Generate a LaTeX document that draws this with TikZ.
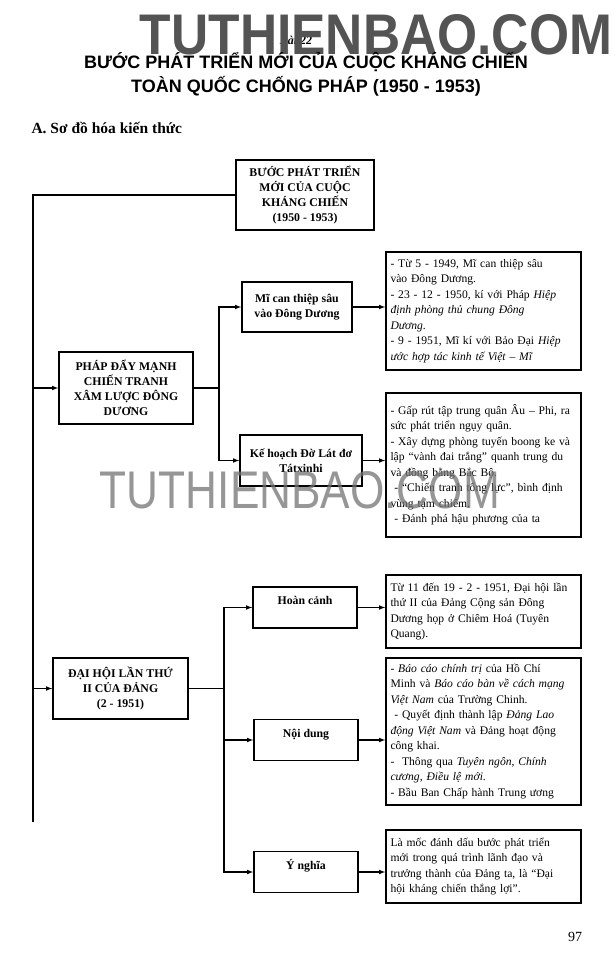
\documentclass[tikz,border=0pt]{standalone}
\usepackage{fontspec}
\setmainfont{Liberation Serif}
\newfontfamily\titlefont{Liberation Sans}
\usepackage{tikz}

\begin{document}
\begin{tikzpicture}[
    x=1pt, y=-1pt,
    block/.style={rectangle, draw, line width=1.7pt, align=center, inner sep=3pt, font=\fontsize{11.8}{15}\selectfont\bfseries},
    topic/.style={rectangle, draw, line width=1.7pt, minimum width=104pt, inner ysep=0pt, text height=17.5pt, text depth=23.5pt, font=\fontsize{11.8}{15}\selectfont\bfseries},
    detail/.style={rectangle, draw, line width=1.7pt, align=left, text width=186pt, inner xsep=4.5pt, font=\fontsize{11.6}{15.5}\selectfont},
    arrow/.style={-latex, line width=1.1pt},
    link/.style={line width=1.1pt}
]
\fill[white] (0,0) rectangle (615,980);
\useasboundingbox (0,0) rectangle (615,980);

% Heading
\node[font=\fontsize{12}{14}\selectfont\bfseries\itshape] (lesson) at (296,40) {Bài 22};
\node[text=black!67] (mark1) at (376,35) {\resizebox{472pt}{40pt}{\titlefont\bfseries TUTHIENBAO.COM}};
\node[font=\fontsize{18}{20}\selectfont\titlefont\bfseries] (title1) at (306,62) {BƯỚC PHÁT TRIỂN MỚI CỦA CUỘC KHÁNG CHIẾN};
\node[font=\fontsize{18}{20}\selectfont\titlefont\bfseries] (title2) at (306,86) {TOÀN QUỐC CHỐNG PHÁP (1950 - 1953)};
\node[anchor=west, font=\fontsize{15.5}{18}\selectfont\bfseries] (part) at (28,128) {A. Sơ đồ hóa kiến thức};

% Left column
\node[block, minimum width=138pt, minimum height=70pt] (top) at (305,195) {BƯỚC PHÁT TRIỂN\\MỚI CỦA CUỘC\\KHÁNG CHIẾN\\(1950 - 1953)};
\node[block, minimum width=134pt, minimum height=72pt] (phap) at (126,388) {PHÁP ĐẨY MẠNH\\CHIẾN TRANH\\XÂM LƯỢC ĐÔNG\\DƯƠNG};
\node[block, minimum width=135pt, minimum height=61pt] (daihoi) at (120.5,688.5) {ĐẠI HỘI LẦN THỨ\\II CỦA ĐẢNG\\(2 - 1951)};

% Middle column
\node[block, minimum width=110pt, minimum height=50pt] (mi) at (297,307) {Mĩ can thiệp sâu\\vào Đông Dương};
\node[block, minimum width=122pt, minimum height=51pt] (kehoach) at (301,460.5) {Kế hoạch Đờ Lát đơ\\Tátxinhi};
\node[topic] (hoancanh) at (305,607.5) {Hoàn cảnh};
\node[topic] (noidung) at (306,740) {Nội dung};
\node[topic] (ynghia) at (306,872) {Ý nghĩa};

% Right column
\node[detail, minimum height=118pt] (fact1) at (483.5,311) {- Từ 5 - 1949, Mĩ can thiệp sâu\\
vào Đông Dương.\\
- 23 - 12 - 1950, kí với Pháp \textit{Hiệp}\\
\textit{định phòng thủ chung Đông}\\
\textit{Dương}.\\
- 9 - 1951, Mĩ kí với Bảo Đại \textit{Hiệp}\\
\textit{ước hợp tác kinh tế Việt -- Mĩ}};
\node[detail, minimum height=144pt] (fact2) at (483.5,465) {- Gấp rút tập trung quân Âu -- Phi, ra\\
sức phát triển ngụy quân.\\
- Xây dựng phòng tuyến boong ke và\\
lập “vành đai trắng” quanh trung du\\
và đồng bằng Bắc Bộ.\\
\ - “Chiến tranh tổng lực”, bình định\\
vùng tạm chiếm.\\
\ - Đánh phá hậu phương của ta};
\node[detail, minimum height=73pt] (fact3) at (483.5,611.5) {Từ 11 đến 19 - 2 - 1951, Đại hội lần\\
thứ II của Đảng Cộng sản Đông\\
Dương họp ở Chiêm Hoá (Tuyên\\
Quang).};
\node[detail, minimum height=147pt] (fact4) at (483.5,731.5) {- \textit{Báo cáo chính trị} của Hồ Chí\\
Minh và \textit{Báo cáo bàn về cách mạng}\\
\textit{Việt Nam} của Trường Chinh.\\
\ - Quyết định thành lập \textit{Đảng Lao}\\
\textit{động Việt Nam} và Đảng hoạt động\\
công khai.\\
- \ Thông qua \textit{Tuyên ngôn}, \textit{Chính}\\
\textit{cương}, \textit{Điều lệ mới}.\\
- Bầu Ban Chấp hành Trung ương};
\node[detail, minimum height=73pt] (fact5) at (483.5,866.5) {Là mốc đánh dấu bước phát triển\\
mới trong quá trình lãnh đạo và\\
trưởng thành của Đảng ta, là “Đại\\
hội kháng chiến thắng lợi”.};

% Spine
\coordinate (spinetop) at (33,195);
\coordinate (spineend) at (33,822);
\draw[link] (top.west) -- (spinetop) -- (spineend);
\draw[arrow] (spinetop |- phap.west) -- (phap.west);
\draw[arrow] (spinetop |- daihoi.west) -- (daihoi.west);

% First branch
\coordinate (fork1) at (219,388);
\draw[link] (phap.east) -- (fork1);
\draw[arrow] (fork1) |- (mi.west);
\draw[arrow] (fork1) |- (kehoach.west);
\draw[arrow] (mi.east) -- (mi.east -| fact1.west);
\draw[arrow] (kehoach.east) -- (kehoach.east -| fact2.west);

% Second branch
\coordinate (fork2) at (224,688.5);
\draw[link] (daihoi.east) -- (fork2);
\draw[arrow] (fork2) |- (hoancanh.west);
\draw[arrow] (fork2) |- (noidung.west);
\draw[arrow] (fork2) |- (ynghia.west);
\draw[arrow] (hoancanh.east) -- (hoancanh.east -| fact3.west);
\draw[arrow] (noidung.east) -- (noidung.east -| fact4.west);
\draw[arrow] (ynghia.east) -- (ynghia.east -| fact5.west);

% Overprint and page number
\node[text=black!55, opacity=0.75] (mark2) at (300,490) {\resizebox{400pt}{37pt}{\titlefont TUTHIENBAO.COM}};
\node[font=\fontsize{14}{16}\selectfont] (page) at (575,937) {97};

\end{tikzpicture}
\end{document}
